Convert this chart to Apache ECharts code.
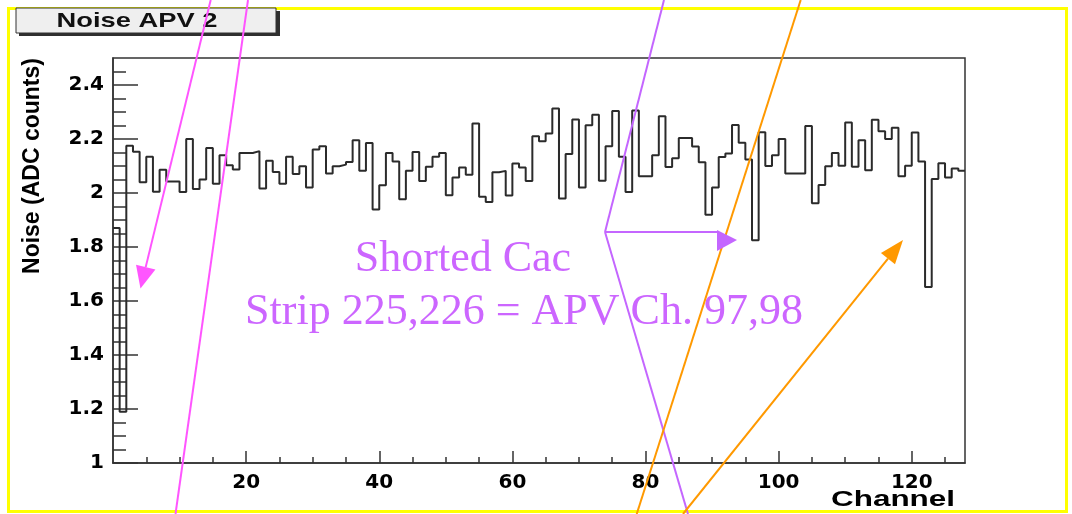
<!DOCTYPE html>
<html>
<head>
<meta charset="utf-8">
<script src="https://cdn.jsdelivr.net/npm/echarts@6/dist/echarts.min.js"></script>
<style>
  html, body { margin: 0; padding: 0; background: #ffffff; }
  #chart { width: 1072px; height: 514px; }
</style>
</head>
<body>
<div id="chart"></div>
<script>
// Noise per APV channel (ADC counts), one value per channel bin [ch, ch+1)
const noise = [
  1.870, 1.190, 2.175, 2.153, 2.040, 2.134, 2.005, 2.086, 2.043, 2.043,
  2.004, 2.200, 2.015, 2.050, 2.167, 2.034, 2.140, 2.103, 2.087, 2.148,
  2.148, 2.155, 2.017, 2.119, 2.078, 2.034, 2.134, 2.070, 2.099, 2.020,
  2.161, 2.173, 2.072, 2.099, 2.105, 2.115, 2.195, 2.082, 2.185, 1.939,
  2.029, 2.148, 2.117, 1.977, 2.082, 2.152, 2.044, 2.097, 2.134, 2.148,
  1.992, 2.057, 2.094, 2.068, 2.257, 1.986, 1.967, 2.077, 2.082, 1.991,
  2.109, 2.094, 2.044, 2.210, 2.192, 2.220, 2.313, 1.980, 2.144, 2.272,
  2.020, 2.251, 2.290, 2.045, 2.173, 2.304, 2.134, 2.004, 2.306, 2.062,
  2.062, 2.140, 2.284, 2.096, 2.129, 2.204, 2.204, 2.172, 2.114, 1.919,
  2.020, 2.133, 2.146, 2.252, 2.186, 2.124, 1.825, 2.225, 2.100, 2.140,
  2.200, 2.072, 2.072, 2.072, 2.248, 1.962, 2.030, 2.099, 2.148, 2.101,
  2.261, 2.097, 2.195, 2.084, 2.271, 2.229, 2.200, 2.242, 2.062, 2.101,
  2.224, 2.117, 1.652, 2.052, 2.110, 2.057, 2.091, 2.082
];
// Channel numbers (lower edge of each bin)
const channels = noise.map((_, i) => i);

// Axis ticks and labels
const xMajorTicks = [20, 40, 60, 80, 100, 120];
const xTickLabels = ['20', '40', '60', '80', '100', '120'];
const yMajorTicks = [1, 1.2, 1.4, 1.6, 1.8, 2, 2.2, 2.4];
const yTickLabels = ['1', '1.2', '1.4', '1.6', '1.8', '2', '2.2', '2.4'];

const xMinorTicks = [];
for (let v = 5; v < 128; v += 5) xMinorTicks.push(v);
const yMinorTicks = [];
for (let k = 21; k < 50; k++) yMinorTicks.push(+(k * 0.05).toFixed(2));

// Histogram outline: each bin starts at its channel; the last bin closes at 128
const histData = channels.map((c, i) => [c, noise[i]]);
histData.push([channels.length, noise[noise.length - 1]]);

const frameColor = '#333333';
const tickStyle = { color: frameColor, width: 1.5 };
const tickFont = { fontFamily: 'DejaVu Sans', fontWeight: 'bold', color: '#000000' };

function labelFor(values, labels) {
  return v => {
    const i = values.findIndex(t => Math.abs(t - v) < 1e-6);
    return i >= 0 ? labels[i] : '';
  };
}

// Straight arrow with a filled triangular head at (x2, y2)
function arrow(x1, y1, x2, y2, color, headLen, headHalf) {
  const dx = x2 - x1, dy = y2 - y1;
  const len = Math.hypot(dx, dy);
  const ux = dx / len, uy = dy / len;
  const bx = x2 - ux * headLen, by = y2 - uy * headLen;
  return [
    { type: 'line', z: 120, shape: { x1: x1, y1: y1, x2: bx, y2: by },
      style: { stroke: color, lineWidth: 2 } },
    { type: 'polygon', z: 121,
      shape: { points: [[x2, y2], [bx - uy * headHalf, by + ux * headHalf], [bx + uy * headHalf, by - ux * headHalf]] },
      style: { fill: color } }
  ];
}
function seg(x1, y1, x2, y2, color) {
  return { type: 'line', z: 120, shape: { x1: x1, y1: y1, x2: x2, y2: y2 },
           style: { stroke: color, lineWidth: 2 } };
}

const magenta = '#ff55ff';
const violet = '#c466ff';
const orange = '#ff9900';

const chart = echarts.init(document.getElementById('chart'), null, { renderer: 'canvas' });
chart.setOption({
  animation: false,
  backgroundColor: '#ffffff',
  grid: {
    left: 113, right: 107, top: 58, bottom: 51,
    show: true, borderColor: frameColor, borderWidth: 1.5,
    backgroundColor: '#ffffff',
    outerBoundsMode: 'none'
  },
  xAxis: [
    {
      type: 'value', min: 0, max: 128, position: 'bottom',
      axisLine: { show: true, onZero: false, lineStyle: tickStyle },
      axisTick: { show: true, inside: true, length: 6, customValues: xMinorTicks, lineStyle: tickStyle },
      axisLabel: { show: false },
      splitLine: { show: false }
    },
    {
      type: 'value', min: 0, max: 128, position: 'bottom',
      axisLine: { show: false },
      axisTick: { show: true, inside: true, length: 12, customValues: xMajorTicks, lineStyle: tickStyle },
      axisLabel: Object.assign({
        show: true, customValues: xMajorTicks, margin: 10, fontSize: 20,
        formatter: labelFor(xMajorTicks, xTickLabels)
      }, tickFont),
      splitLine: { show: false }
    }
  ],
  yAxis: [
    {
      type: 'value', min: 1, max: 2.5, position: 'left',
      axisLine: { show: true, onZero: false, lineStyle: tickStyle },
      axisTick: { show: true, inside: true, length: 13, customValues: yMinorTicks, lineStyle: tickStyle },
      axisLabel: { show: false },
      splitLine: { show: false }
    },
    {
      type: 'value', min: 1, max: 2.5, position: 'left',
      axisLine: { show: false },
      axisTick: { show: true, inside: true, length: 25, customValues: yMajorTicks, lineStyle: tickStyle },
      axisLabel: Object.assign({
        show: true, customValues: yMajorTicks, margin: 9, fontSize: 20,
        formatter: labelFor(yMajorTicks, yTickLabels)
      }, tickFont),
      splitLine: { show: false }
    }
  ],
  series: [{
    name: 'Noise APV 2',
    type: 'line',
    xAxisIndex: 0, yAxisIndex: 0,
    step: 'end',
    data: histData,
    showSymbol: false,
    clip: true,
    lineStyle: { color: '#2b2b2b', width: 2 },
    z: 3
  }],
  graphic: [
    // outer frame
    { type: 'rect', z: 90, shape: { x: 8.5, y: 8.5, width: 1058, height: 503 },
      style: { fill: 'none', stroke: '#ffff00', lineWidth: 3 } },
    // title box
    { type: 'rect', z: 91, shape: { x: 19, y: 11, width: 261, height: 25 }, style: { fill: '#2f2f2f' } },
    { type: 'rect', z: 92, shape: { x: 16, y: 8, width: 260, height: 25 },
      style: { fill: '#efefef', stroke: '#333333', lineWidth: 1 } },
    { type: 'text', z: 93, x: 137, y: 21, scaleX: 1.3,
      style: { text: 'Noise APV 2', fontFamily: 'Liberation Sans', fontWeight: 'bold', fontSize: 21,
               fill: '#111111', align: 'center', verticalAlign: 'middle' } },
    // axis titles
    { type: 'text', z: 93, x: 33, y: 166, rotation: Math.PI / 2,
      style: { text: 'Noise (ADC counts)', fontFamily: 'Liberation Sans', fontWeight: 'bold', fontSize: 23,
               fill: '#000000', align: 'center', verticalAlign: 'middle' } },
    { type: 'text', z: 93, x: 893, y: 500, scaleX: 1.43,
      style: { text: 'Channel', fontFamily: 'Liberation Sans', fontWeight: 'bold', fontSize: 22,
               fill: '#000000', align: 'center', verticalAlign: 'middle' } },
    // annotation text
    { type: 'text', z: 110, x: 463, y: 259,
      style: { text: 'Shorted Cac', fontFamily: 'Liberation Serif', fontSize: 44,
               fill: '#cc66ff', align: 'center', verticalAlign: 'middle' } },
    { type: 'text', z: 110, x: 524, y: 312,
      style: { text: 'Strip 225,226 = APV Ch. 97,98', fontFamily: 'Liberation Serif', fontSize: 44,
               fill: '#cc66ff', align: 'center', verticalAlign: 'middle' } },
    // pointer lines
    ...arrow(210.7, 0, 140.5, 288.5, magenta, 22, 10),
    seg(248, 0, 175.5, 514, magenta),
    seg(664, 0, 605, 232, violet),
    seg(605, 232, 717, 232, violet),
    { type: 'polygon', z: 121, shape: { points: [[717, 230], [717, 251], [737, 240]] }, style: { fill: violet } },
    seg(605, 232, 688, 514, violet),
    seg(800.7, 0, 636.7, 514, orange),
    ...arrow(683, 514, 903, 240, orange, 24, 9)
  ]
});
</script>
</body>
</html>
